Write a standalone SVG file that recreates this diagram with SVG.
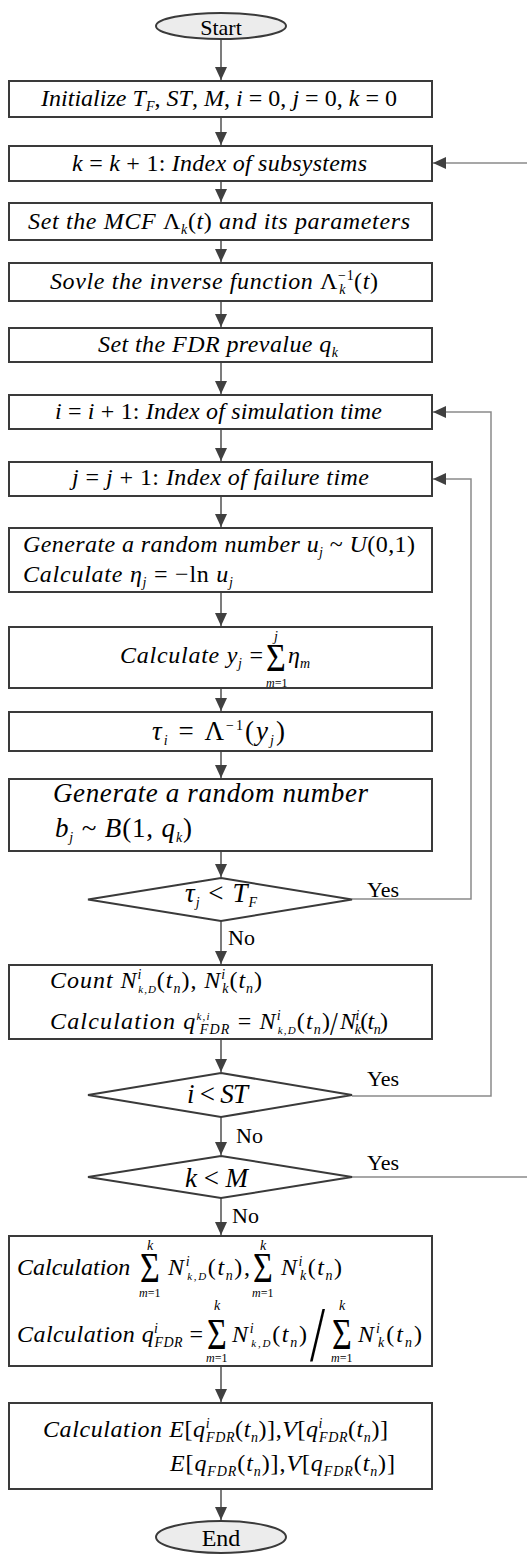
<svg xmlns="http://www.w3.org/2000/svg" width="527" height="1554" viewBox="0 0 527 1554">
<style>
.b{fill:#fff;stroke:#3a3a3a;stroke-width:2}
.e{fill:#ececec;stroke:#3a3a3a;stroke-width:2}
.c{stroke:#505050;stroke-width:1.5;fill:none}
.l{stroke:#8a8a8a;stroke-width:1.5;fill:none}
.t{font-family:"Liberation Serif","Times New Roman",serif;font-size:24px;fill:#000}
.i{font-style:italic}
.u{font-style:normal}
.L{font-size:27px}
.lab{font-size:22px}
.s{font-size:14px}
.x{font-size:11px}
.sm{font-size:12px}
.sig{font-size:34px;font-style:normal}
</style>
<defs>
<marker id="ah" markerUnits="userSpaceOnUse" markerWidth="13" markerHeight="12" refX="13" refY="6" orient="auto">
<path d="M0,0 L13,6 L0,12 z" fill="#404040"/>
</marker>
</defs>

<g id="connectors">
<line class="c" x1="221" y1="39" x2="221" y2="80" marker-end="url(#ah)"/>
<line class="c" x1="221" y1="117" x2="221" y2="145" marker-end="url(#ah)"/>
<line class="c" x1="221" y1="181" x2="221" y2="202" marker-end="url(#ah)"/>
<line class="c" x1="221" y1="240" x2="221" y2="262" marker-end="url(#ah)"/>
<line class="c" x1="221" y1="301" x2="221" y2="327" marker-end="url(#ah)"/>
<line class="c" x1="221" y1="362" x2="221" y2="394" marker-end="url(#ah)"/>
<line class="c" x1="221" y1="429" x2="221" y2="461" marker-end="url(#ah)"/>
<line class="c" x1="221" y1="496" x2="221" y2="527" marker-end="url(#ah)"/>
<line class="c" x1="221" y1="592" x2="221" y2="626" marker-end="url(#ah)"/>
<line class="c" x1="221" y1="688" x2="221" y2="711" marker-end="url(#ah)"/>
<line class="c" x1="221" y1="751" x2="221" y2="778" marker-end="url(#ah)"/>
<line class="c" x1="221" y1="851" x2="221" y2="877" marker-end="url(#ah)"/>
<line class="c" x1="221" y1="921" x2="221" y2="964" marker-end="url(#ah)"/>
<line class="c" x1="221" y1="1039" x2="221" y2="1072" marker-end="url(#ah)"/>
<line class="c" x1="221" y1="1117" x2="221" y2="1155" marker-end="url(#ah)"/>
<line class="c" x1="221" y1="1198" x2="221" y2="1235" marker-end="url(#ah)"/>
<line class="c" x1="221" y1="1366" x2="221" y2="1402" marker-end="url(#ah)"/>
<line class="c" x1="221" y1="1489" x2="221" y2="1520" marker-end="url(#ah)"/>
<polyline class="l" points="352,899 471,899 471,479 433,479" marker-end="url(#ah)"/>
<polyline class="l" points="352,1096 491,1096 491,412 433,412" marker-end="url(#ah)"/>
<polyline class="l" points="352,1177 530,1177 530,163 433,163" marker-end="url(#ah)"/>
<text class="t lab" x="367" y="897">Yes</text>
<text class="t lab" x="367" y="1086">Yes</text>
<text class="t lab" x="367" y="1170">Yes</text>
<text class="t lab" x="228" y="945">No</text>
<text class="t lab" x="236" y="1143">No</text>
<text class="t lab" x="232" y="1223">No</text>
</g>

<g id="n-start">
<ellipse class="e" cx="221" cy="26" rx="65" ry="13"/>
<text class="t lab" x="221" y="35" text-anchor="middle">Start</text>
</g>

<g id="n-init">
<rect class="b" x="9" y="81" width="423" height="36"/>
<text class="t i" x="41" y="106" textLength="356" lengthAdjust="spacing">Initialize T<tspan class="s" dy="5">F</tspan><tspan class="u" dy="-5">, </tspan>ST<tspan class="u">, </tspan>M<tspan class="u">, </tspan>i<tspan class="u"> = 0, </tspan>j<tspan class="u"> = 0, </tspan>k<tspan class="u"> = 0</tspan></text>
</g>

<g id="n-k">
<rect class="b" x="9" y="146" width="423" height="35"/>
<text class="t i" x="72" y="171" textLength="295" lengthAdjust="spacing">k<tspan class="u"> = </tspan>k<tspan class="u"> + 1: </tspan>Index of  subsystems</text>
</g>

<g id="n-mcf">
<rect class="b" x="9" y="203" width="423" height="37"/>
<text class="t i" x="28" y="229" textLength="382" lengthAdjust="spacing">Set the MCF <tspan class="u">Λ</tspan><tspan class="s" dy="5">k</tspan><tspan class="u" dy="-5">(</tspan>t<tspan class="u">)</tspan> and its parameters</text>
</g>

<g id="n-inv">
<rect class="b" x="9" y="263" width="423" height="38"/>
<text class="t i" x="50" y="289" textLength="328" lengthAdjust="spacing">Sovle the inverse function <tspan class="u">Λ</tspan><tspan class="s u" dy="-9">−1</tspan><tspan class="s" dx="-15" dy="14">k</tspan><tspan class="u" dx="8" dy="-5">(</tspan>t<tspan class="u">)</tspan></text>
</g>

<g id="n-fdr">
<rect class="b" x="9" y="328" width="423" height="34"/>
<text class="t i" x="98" y="352" textLength="240" lengthAdjust="spacing">Set the FDR prevalue q<tspan class="s" dy="5">k</tspan></text>
</g>

<g id="n-i">
<rect class="b" x="9" y="395" width="423" height="34"/>
<text class="t i" x="55" y="419" textLength="327" lengthAdjust="spacing">i<tspan class="u"> = </tspan>i<tspan class="u"> + 1: </tspan>Index of  simulation time</text>
</g>

<g id="n-j">
<rect class="b" x="9" y="462" width="423" height="34"/>
<text class="t i" x="72" y="485" textLength="297" lengthAdjust="spacing">j<tspan class="u"> = </tspan>j<tspan class="u"> + 1: </tspan>Index of  failure time</text>
</g>

<g id="n-rand">
<rect class="b" x="9" y="528" width="423" height="64"/>
<text class="t i" x="23" y="552" textLength="392" lengthAdjust="spacing">Generate a random number u<tspan class="s" dy="5">j</tspan><tspan class="u" dy="-5"> ~ </tspan>U<tspan class="u">(0,1)</tspan></text>
<text class="t i" x="23" y="582" textLength="210" lengthAdjust="spacing">Calculate η<tspan class="s" dy="5">j</tspan><tspan class="u" dy="-5"> = −ln </tspan>u<tspan class="s" dy="5">j</tspan></text>
</g>

<g id="n-sum">
<rect class="b" x="9" y="627" width="423" height="61"/>
<text class="t i" x="120" y="663" textLength="143" lengthAdjust="spacing">Calculate y<tspan class="s" dy="5">j</tspan><tspan class="u" dy="-5"> =</tspan></text>
<text class="t sig" transform="translate(266,671) scale(1,1.2)">Σ</text>
<text class="t i s" x="274" y="641">j</text>
<text class="t i sm" x="266" y="687">m<tspan class="u">=1</tspan></text>
<text class="t i" x="288" y="663">η<tspan class="s" dy="5">m</tspan></text>
</g>

<g id="n-tau">
<rect class="b" x="9" y="712" width="423" height="39"/>
<text class="t L" x="152" y="740" textLength="133" lengthAdjust="spacing"><tspan class="i">τ</tspan><tspan class="s i" dy="5">i</tspan><tspan dy="-5"> = Λ</tspan><tspan class="s" dy="-10">−1</tspan><tspan dy="10">(</tspan><tspan class="i">y</tspan><tspan class="s i" dy="5">j</tspan><tspan dy="-5">)</tspan></text>
</g>

<g id="n-bern">
<rect class="b" x="9" y="779" width="423" height="72"/>
<text class="t i L" x="53" y="802" textLength="315" lengthAdjust="spacing">Generate a random number</text>
<text class="t L" x="55" y="837" textLength="137" lengthAdjust="spacing"><tspan class="i">b</tspan><tspan class="s i" dy="5">j</tspan><tspan dy="-5"> ~ </tspan><tspan class="i">B</tspan>(1, <tspan class="i">q</tspan><tspan class="s i" dy="5">k</tspan><tspan dy="-5">)</tspan></text>
</g>

<g id="n-d1">
<polygon class="b" points="221,878 352,899.5 221,921 88,899.5"/>
<text class="t L" x="185" y="902" textLength="72" lengthAdjust="spacing"><tspan class="i">τ</tspan><tspan class="s i" dy="5">j</tspan><tspan dy="-5"> &lt; </tspan><tspan class="i">T</tspan><tspan class="s i" dy="5">F</tspan></text>
</g>

<g id="n-count">
<rect class="b" x="9" y="965" width="423" height="74"/>
<text class="t i" x="50" y="988" textLength="212" lengthAdjust="spacing">Count N<tspan class="s" dy="-9">i</tspan><tspan class="x" dx="-4" dy="14">k,D</tspan><tspan class="u" dy="-5">(</tspan>t<tspan class="s" dy="5">n</tspan><tspan class="u" dy="-5">), </tspan>N<tspan class="s" dy="-9">i</tspan><tspan class="s" dx="-4" dy="14">k</tspan><tspan class="u" dy="-5">(</tspan>t<tspan class="s" dy="5">n</tspan><tspan class="u" dy="-5">)</tspan></text>
<text class="t i" x="50" y="1029" textLength="280" lengthAdjust="spacing">Calculation q<tspan class="x" dy="-9">k,i</tspan><tspan class="s" dx="-11" dy="14">FDR</tspan><tspan class="u" dy="-5"> = </tspan>N<tspan class="s" dy="-9">i</tspan><tspan class="x" dx="-4" dy="14">k,D</tspan><tspan class="u" dy="-5">(</tspan>t<tspan class="s" dy="5">n</tspan><tspan class="u" dy="-5">)</tspan></text>
<text class="t u" transform="translate(330,1035) scale(1,1.2)" style="font-size:28px">/</text>
<text class="t i" x="340" y="1029" textLength="48" lengthAdjust="spacing">N<tspan class="s" dy="-9">i</tspan><tspan class="s" dx="-4" dy="14">k</tspan><tspan class="u" dy="-5">(</tspan>t<tspan class="s" dy="5">n</tspan><tspan class="u" dy="-5">)</tspan></text>
</g>

<g id="n-d2">
<polygon class="b" points="221,1073 352,1095 221,1117 88,1095"/>
<text class="t L" x="187" y="1103" textLength="61" lengthAdjust="spacing"><tspan class="i">i</tspan> &lt; <tspan class="i">ST</tspan></text>
</g>

<g id="n-d3">
<polygon class="b" points="221,1156 352,1177 221,1198 88,1177"/>
<text class="t L" x="185" y="1187" textLength="63" lengthAdjust="spacing"><tspan class="i">k</tspan> &lt; <tspan class="i">M</tspan></text>
</g>

<g id="n-total">
<rect class="b" x="9" y="1236" width="423" height="130"/>
<text class="t i" x="17" y="1275">Calculation</text>
<text class="t sig" transform="translate(140,1282) scale(1,1.25)">Σ</text>
<text class="t i s" x="147" y="1250">k</text>
<text class="t i sm" x="139" y="1297">m<tspan class="u">=1</tspan></text>
<text class="t i" x="168" y="1275" textLength="82" lengthAdjust="spacing">N<tspan class="s" dy="-9">i</tspan><tspan class="x" dx="-4" dy="14">k,D</tspan><tspan class="u" dy="-5">(</tspan>t<tspan class="s" dy="5">n</tspan><tspan class="u" dy="-5">),</tspan></text>
<text class="t sig" transform="translate(253,1282) scale(1,1.25)">Σ</text>
<text class="t i s" x="260" y="1250">k</text>
<text class="t i sm" x="252" y="1297">m<tspan class="u">=1</tspan></text>
<text class="t i" x="281" y="1275" textLength="61" lengthAdjust="spacing">N<tspan class="s" dy="-9">i</tspan><tspan class="s" dx="-4" dy="14">k</tspan><tspan class="u" dy="-5">(</tspan>t<tspan class="s" dy="5">n</tspan><tspan class="u" dy="-5">)</tspan></text>

<text class="t i" x="17" y="1342" textLength="186" lengthAdjust="spacing">Calculation q<tspan class="s" dy="-9">i</tspan><tspan class="s" dx="-4" dy="14">FDR</tspan><tspan class="u" dy="-5"> =</tspan></text>
<text class="t sig" transform="translate(207,1349) scale(1,1.3)">Σ</text>
<text class="t i s" x="214" y="1310">k</text>
<text class="t i sm" x="206" y="1362">m<tspan class="u">=1</tspan></text>
<text class="t i" x="232" y="1342" textLength="75" lengthAdjust="spacing">N<tspan class="s" dy="-9">i</tspan><tspan class="x" dx="-4" dy="14">k,D</tspan><tspan class="u" dy="-5">(</tspan>t<tspan class="s" dy="5">n</tspan><tspan class="u" dy="-5">)</tspan></text>
<text class="t u" transform="translate(310,1360) scale(1.5,2.2)" style="font-size:36px">/</text>
<text class="t sig" transform="translate(332,1349) scale(1,1.3)">Σ</text>
<text class="t i s" x="339" y="1310">k</text>
<text class="t i sm" x="331" y="1362">m<tspan class="u">=1</tspan></text>
<text class="t i" x="358" y="1342" textLength="64" lengthAdjust="spacing">N<tspan class="s" dy="-9">i</tspan><tspan class="s" dx="-4" dy="14">k</tspan><tspan class="u" dy="-5">(</tspan>t<tspan class="s" dy="5">n</tspan><tspan class="u" dy="-5">)</tspan></text>
</g>

<g id="n-stat">
<rect class="b" x="9" y="1403" width="423" height="86"/>
<text class="t i" x="43" y="1437" textLength="345" lengthAdjust="spacing">Calculation E<tspan class="u">[</tspan>q<tspan class="s" dy="-9">i</tspan><tspan class="s" dx="-4" dy="14">FDR</tspan><tspan class="u" dy="-5">(</tspan>t<tspan class="s" dy="5">n</tspan><tspan class="u" dy="-5">)],</tspan>V<tspan class="u">[</tspan>q<tspan class="s" dy="-9">i</tspan><tspan class="s" dx="-4" dy="14">FDR</tspan><tspan class="u" dy="-5">(</tspan>t<tspan class="s" dy="5">n</tspan><tspan class="u" dy="-5">)]</tspan></text>
<text class="t i" x="170" y="1471" textLength="225" lengthAdjust="spacing">E<tspan class="u">[</tspan>q<tspan class="s" dy="5">FDR</tspan><tspan class="u" dy="-5">(</tspan>t<tspan class="s" dy="5">n</tspan><tspan class="u" dy="-5">)],</tspan>V<tspan class="u">[</tspan>q<tspan class="s" dy="5">FDR</tspan><tspan class="u" dy="-5">(</tspan>t<tspan class="s" dy="5">n</tspan><tspan class="u" dy="-5">)]</tspan></text>
</g>

<g id="n-end">
<ellipse class="e" cx="221" cy="1537" rx="65" ry="16"/>
<text class="t" x="221" y="1546" text-anchor="middle">End</text>
</g>
</svg>
